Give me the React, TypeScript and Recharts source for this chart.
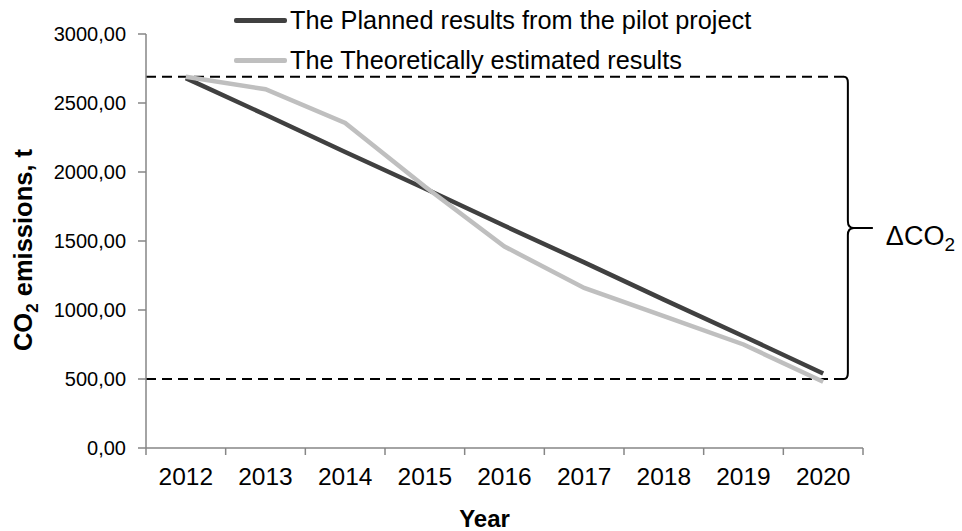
import React from 'react';
import { LineChart, Line, XAxis, YAxis, Legend, ReferenceLine } from 'recharts';

const years = [2012, 2013, 2014, 2015, 2016, 2017, 2018, 2019, 2020];
const planned = [2680, 2415, 2145, 1880, 1610, 1345, 1075, 810, 540];
const estimated = [2690, 2600, 2355, 1895, 1460, 1160, 955, 750, 480];
const yTicks = [0, 500, 1000, 1500, 2000, 2500, 3000];
const boundaryTicks = [2011.5, 2012.5, 2013.5, 2014.5, 2015.5, 2016.5, 2017.5, 2018.5, 2019.5, 2020.5];
const seriesNames = ['The Planned results from the pilot project', 'The Theoretically estimated results'];
const deltaTop = 2690;
const deltaBottom = 500;
const dashEndX = 2020.27;
const braceX = 2020.31;

const data = years.map((y, i) => ({ year: y, planned: planned[i], estimated: estimated[i] }));

const FONT = '"Liberation Sans", Arial, sans-serif';

const Brace = (p: any) => {
  const { x1, y1, y2 } = p;
  const x = x1;
  const top = Math.min(y1, y2);
  const bot = Math.max(y1, y2);
  const mid = (top + bot) / 2;
  const d = `M ${x - 4} ${top} Q ${x} ${top} ${x} ${top + 6} L ${x} ${mid - 7} Q ${x} ${mid} ${x + 6} ${mid} L ${x + 25} ${mid} M ${x + 6} ${mid} Q ${x} ${mid} ${x} ${mid + 7} L ${x} ${bot - 6} Q ${x} ${bot} ${x - 4} ${bot}`;
  return (
    <g>
      <path d={d} fill="none" stroke="#000" strokeWidth={2} />
      <text x={x + 38} y={mid + 17} fontSize={27} fontFamily={FONT} fill="#000">
        ΔCO<tspan fontSize={19} dy={6}>2</tspan>
      </text>
    </g>
  );
};

const LegendContent = (props: any) => {
  const payload = props.payload || [];
  return (
    <div style={{ fontFamily: FONT }}>
      {payload.map((e: any, i: number) => (
        <div key={i} style={{ display: 'flex', alignItems: 'center', height: 40, whiteSpace: 'nowrap' }}>
          <span style={{ display: 'inline-block', width: 53, height: 5, background: e.color, borderRadius: 2 }} />
          <span style={{ marginLeft: 3, fontSize: 25.3, color: '#000' }}>{e.value}</span>
        </div>
      ))}
    </div>
  );
};

const YLabel = (p: any) => {
  const vb = p.viewBox || { x: 0, y: 34, width: 146, height: 414 };
  const cx = vb.x + 32;
  const cy = vb.y + vb.height / 2 + 9;
  return (
    <text x={cx} y={cy} transform={`rotate(-90 ${cx} ${cy})`} textAnchor="middle" fontSize={25.5} fontWeight="bold" fontFamily={FONT} fill="#000">
      CO<tspan fontSize={17} dy={6}>2</tspan><tspan dy={-6}> emissions, t</tspan>
    </text>
  );
};

const XLabel = (p: any) => {
  const vb = p.viewBox || { x: 146, y: 448, width: 717, height: 83 };
  return (
    <text x={vb.x + vb.width / 2 - 20} y={vb.y + vb.height - 4} textAnchor="middle" fontSize={24} fontWeight="bold" fontFamily={FONT} fill="#000">
      Year
    </text>
  );
};

export default function App() {
  return (
    <div style={{ position: 'absolute', left: 0, top: 0, width: 962, height: 531, background: '#fff', fontFamily: FONT }}>
      <LineChart width={962} height={531} data={data} margin={{ top: 34, right: 99, bottom: 0, left: 0 }}>
        <XAxis
          xAxisId="a"
          dataKey="year"
          type="number"
          domain={[2011.5, 2020.5]}
          ticks={boundaryTicks}
          interval={0}
          tickFormatter={() => ''}
          height={1}
          tickSize={7}
          stroke="#868686"
          strokeWidth={1.5}
        />
        <XAxis
          xAxisId="b"
          dataKey="year"
          type="number"
          domain={[2011.5, 2020.5]}
          ticks={years}
          interval={0}
          height={82}
          axisLine={false}
          tickLine={false}
          tickSize={0}
          tickMargin={19}
          tick={{ fontSize: 24.5, fill: '#000', fontFamily: FONT }}
          label={<XLabel />}
        />
        <YAxis
          domain={[0, 3000]}
          ticks={yTicks}
          interval={0}
          width={146}
          tickSize={8}
          tickMargin={12}
          stroke="#868686"
          strokeWidth={1.5}
          tick={{ fontSize: 20, fill: '#000', fontFamily: FONT }}
          tickFormatter={(v: number) => v.toFixed(2).replace('.', ',')}
          label={<YLabel />}
        />
        <Legend
          layout="vertical"
          align="center"
          verticalAlign="middle"
          content={<LegendContent />}
          wrapperStyle={{ left: 234, top: 0, width: 'auto', height: 'auto' }}
        />
        <ReferenceLine
          xAxisId="b"
          segment={[{ x: 2011.5, y: deltaTop }, { x: dashEndX, y: deltaTop }]}
          stroke="#000"
          strokeWidth={2}
          strokeDasharray="10 6"
        />
        <ReferenceLine
          xAxisId="b"
          segment={[{ x: 2011.5, y: deltaBottom }, { x: dashEndX, y: deltaBottom }]}
          stroke="#000"
          strokeWidth={2}
          strokeDasharray="10 6"
        />
        <Line
          xAxisId="b"
          type="linear"
          dataKey="planned"
          name={seriesNames[0]}
          stroke="#404040"
          strokeWidth={4.5}
          dot={false}
          isAnimationActive={false}
        />
        <Line
          xAxisId="b"
          type="linear"
          dataKey="estimated"
          name={seriesNames[1]}
          stroke="#bfbfbf"
          strokeWidth={4.5}
          dot={false}
          isAnimationActive={false}
        />
        <ReferenceLine
          xAxisId="b"
          segment={[{ x: braceX, y: deltaTop }, { x: braceX, y: deltaBottom }]}
          shape={<Brace />}
          ifOverflow="visible"
        />
      </LineChart>
    </div>
  );
}
